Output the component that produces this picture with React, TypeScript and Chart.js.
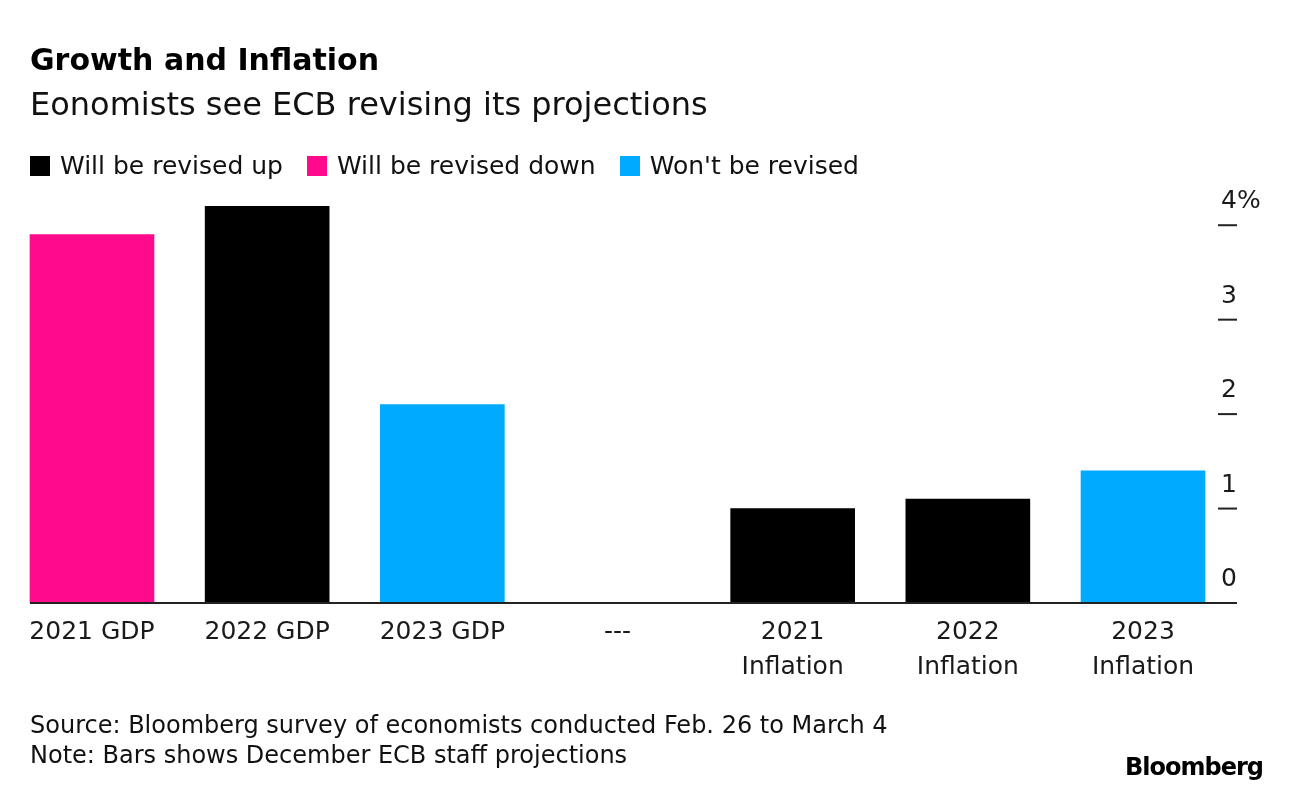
import React, { useEffect, useRef } from "react";
import { Chart, registerables } from "chart.js";

Chart.register(...registerables);

// ---- data ----
const categories: string[][] = [
  ["2021 GDP"],
  ["2022 GDP"],
  ["2023 GDP"],
  ["---"],
  ["2021", "Inflation"],
  ["2022", "Inflation"],
  ["2023", "Inflation"],
];
const projections: (number | null)[] = [3.9, 4.2, 2.1, null, 1.0, 1.1, 1.4];
const revisionStatus: (string | null)[] = ["down", "up", "none", null, "up", "up", "none"];
const legendKeys = ["up", "down", "none"];
const legendLabels = ["Will be revised up", "Will be revised down", "Won't be revised"];
const yTickValues = [0, 1, 2, 3, 4];
const yTickLabels = ["0", "1", "2", "3", "4%"];

const statusColors: Record<string, string> = {
  up: "#000000",
  down: "#ff0a8c",
  none: "#00aaff",
};

const FONT = "'DejaVu Sans', sans-serif";

const rightAxisPlugin = {
  id: "rightAxis",
  afterDraw(chart: any) {
    const { ctx } = chart;
    const y = chart.scales.y;
    const base = y.getPixelForValue(0);
    ctx.save();
    // baseline
    ctx.strokeStyle = "#222222";
    ctx.lineWidth = 2;
    ctx.beginPath();
    ctx.moveTo(30, base);
    ctx.lineTo(1237, base);
    ctx.stroke();
    // tick dashes and labels
    ctx.fillStyle = "#1a1a1a";
    ctx.font = `25px ${FONT}`;
    ctx.textAlign = "left";
    ctx.textBaseline = "alphabetic";
    yTickValues.forEach((v, i) => {
      const py = y.getPixelForValue(v);
      ctx.beginPath();
      ctx.moveTo(1218, py);
      ctx.lineTo(1237, py);
      ctx.stroke();
      ctx.fillText(yTickLabels[i], 1221, py - 17);
    });
    ctx.restore();
  },
};

function BarChart() {
  const ref = useRef<HTMLCanvasElement | null>(null);
  useEffect(() => {
    if (!ref.current) return;
    const chart = new Chart(ref.current, {
      type: "bar",
      data: {
        labels: categories,
        datasets: [
          {
            data: projections,
            backgroundColor: revisionStatus.map((s) => (s ? statusColors[s] : "transparent")),
            borderWidth: 0,
            barThickness: 124,
          },
        ],
      },
      options: {
        responsive: false,
        animation: false,
        layout: { padding: { left: 4.4, right: 61.4, top: 178, bottom: 0 } },
        plugins: { legend: { display: false }, tooltip: { enabled: false } },
        scales: {
          x: {
            offset: true,
            grid: { display: false, drawTicks: false },
            border: { display: false },
            ticks: {
              autoSkip: false,
              maxRotation: 0,
              padding: 12,
              color: "#1a1a1a",
              font: { family: FONT, size: 25, lineHeight: 1.4 },
            },
            afterFit: (scale: any) => {
              scale.height = 191;
            },
          },
          y: {
            display: false,
            min: 0,
            max: 4.5,
          },
        },
      },
      plugins: [rightAxisPlugin],
    });
    return () => chart.destroy();
  }, []);
  return (
    <canvas
      ref={ref}
      width={1292}
      height={794}
      style={{ position: "absolute", left: 0, top: 0, width: 1292, height: 794 }}
    />
  );
}

export default function App() {
  const text: React.CSSProperties = {
    position: "absolute",
    left: 30,
    fontFamily: FONT,
    color: "#000",
    whiteSpace: "nowrap",
    lineHeight: 1,
    margin: 0,
  };
  return (
    <div
      style={{
        position: "absolute",
        left: 0,
        top: 0,
        width: 1292,
        height: 794,
        overflow: "hidden",
        background: "#fff",
      }}
    >
      <BarChart />
      <div style={{ ...text, top: 44.5, fontSize: 30, fontWeight: 700 }}>Growth and Inflation</div>
      <div style={{ ...text, top: 88, fontSize: 32, color: "#111" }}>
        Eonomists see ECB revising its projections
      </div>
      <div style={{ ...text, top: 153, fontSize: 25, display: "flex", alignItems: "center", color: "#111" }}>
        {legendKeys.map((k, i) => (
          <div key={k} style={{ display: "flex", alignItems: "center", marginRight: 24 }}>
            <div style={{ width: 20, height: 20, background: statusColors[k], marginRight: 10 }} />
            <span>{legendLabels[i]}</span>
          </div>
        ))}
      </div>
      <div style={{ ...text, top: 710, fontSize: 24, lineHeight: "30px", color: "#111" }}>
        <div>Source: Bloomberg survey of economists conducted Feb. 26 to March 4</div>
        <div>Note: Bars shows December ECB staff projections</div>
      </div>
      <div
        style={{
          ...text,
          left: "auto",
          right: 29,
          top: 755,
          fontSize: 24,
          fontWeight: 700,
          letterSpacing: -1,
        }}
      >
        Bloomberg
      </div>
    </div>
  );
}
